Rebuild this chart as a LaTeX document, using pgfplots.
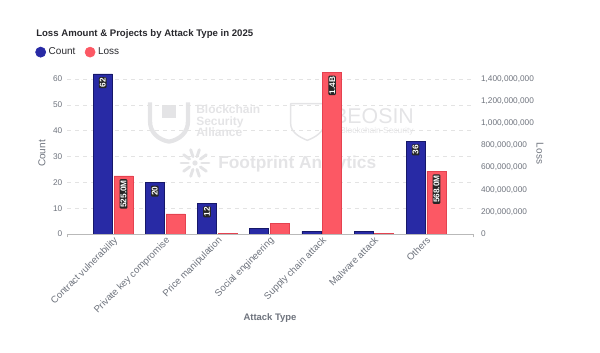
\documentclass[border=0pt]{standalone}
\usepackage{fontspec}
\setmainfont{Liberation Sans}
\usepackage{pgfplots}
\pgfplotsset{compat=1.18}
\definecolor{cblue}{RGB}{40,42,165}
\definecolor{cblueb}{RGB}{22,24,105}
\definecolor{cred}{RGB}{252,88,100}
\definecolor{credb}{RGB}{228,66,80}
\definecolor{tickc}{RGB}{110,115,125}
\definecolor{titlec}{RGB}{40,40,45}
\definecolor{wm}{RGB}{228,228,230}
\tikzset{
  barlabel/.style={rotate=90, anchor=east, outer xsep=2.5pt, fill=black!85, text=white, font=\bfseries\fontsize{6.2}{6.2}\selectfont, inner sep=0.7pt, rounded corners=0.8pt}
}
\begin{document}
\begin{tikzpicture}
\path[use as bounding box] (0,0) rectangle (450pt,264.75pt);
% watermark logos
\begin{scope}[x=1pt,y=1pt]
\draw[wm, line width=3.2pt, line join=round] (112.5,188) -- (112.5,174) .. controls (112.5,165) and (119,160) .. (126.75,158.5) .. controls (134.5,160) and (141,165) .. (141,174) -- (141,188);
\fill[wm] (121.5,176) rectangle (132,186);
\draw[wm, line width=1.1pt, line join=round] (218,187) -- (243,187) -- (243,172) .. controls (243,166) and (237,162) .. (230.5,159.5) .. controls (224,162) and (218,166) .. (218,172) -- cycle;
\foreach \a in {0,36,...,324} {\draw[wm, line width=2.2pt, line cap=round] (146.25,142.5) ++(\a:5pt) -- ++(\a:5.5pt);}
\fill[wm] (146.25,142.5) circle (2pt);
\end{scope}
% watermark texts
\node[anchor=west, font=\bfseries\fontsize{9}{8.6}\selectfont, text=wm, align=left, inner sep=0pt] at (147pt,174pt) {Blockchain\\Security\\Alliance};
\node[anchor=west, font=\fontsize{16}{16}\selectfont, text=wm, inner sep=0pt] at (249.75pt,177.75pt) {BEOSIN};
\node[anchor=west, font=\fontsize{6.3}{7}\selectfont, text=wm, inner sep=0pt] at (255pt,166.5pt) {Blockchain Security};
\node[anchor=west, font=\bfseries\fontsize{13}{14}\selectfont, text=wm, inner sep=0pt] at (163.5pt,141.75pt) {Footprint Analytics};
% title
\node[anchor=west, font=\bfseries\fontsize{7.2}{8}\selectfont, text=titlec, inner sep=0pt] at (27pt,239.5pt) {Loss Amount \& Projects by Attack Type in 2025};

\begin{axis}[
  at={(50.25pt,89.25pt)}, anchor=south west,
  scale only axis, width=304.5pt, height=124pt,
  xmin=-0.885, xmax=6.9,
  ymin=0, ymax=64,
  axis y line*=left, axis x line*=bottom,
  y axis line style={draw=none},
  x axis line style={draw=gray!55, line width=0.6pt, -},
  xtick={0,...,6},
  xticklabels={Contract vulnerability, Private key compromise, Price manipulation, Social engineering, Supply chain attack, Malware attack, Others},
  xticklabel style={rotate=45, anchor=north east, font=\fontsize{7.2}{8}\selectfont, text=tickc, inner sep=1pt},
  major tick length=0pt,
  extra x ticks={-0.885,6.9}, extra x tick labels={},
  extra x tick style={tick align=outside, major tick length=2.5pt, tick style={draw=gray!55, line width=0.6pt}},
  ytick={0,10,...,60},
  yticklabel style={font=\fontsize{6.2}{7}\selectfont, text=tickc},
  /pgf/number format/assume math mode=true,
  ymajorgrids, grid style={gray!22, dash pattern=on 3pt off 3pt, line width=0.5pt},
  xlabel={Attack Type}, ylabel={Count},
  every axis x label/.style={at={(axis description cs:0.5,-0.508)}, anchor=center, font=\bfseries\fontsize{7.1}{8}\selectfont, text=tickc},
  every axis y label/.style={at={(axis description cs:-0.0616,0.487)}, rotate=90, anchor=center, font=\fontsize{7.5}{8}\selectfont, text=tickc},
  legend columns=2,
  legend style={at={(axis description cs:-0.0788,1.100)}, anchor=west, draw=none, fill=none, inner sep=0pt, font=\fontsize{7.5}{8}\selectfont, text=titlec, /tikz/every even column/.append style={column sep=5pt}},
]
\addplot[ybar, bar width=14.25pt, bar shift=-7.8pt, fill=cblue, draw=cblueb, line width=0.5pt,
  legend image code/.code={\fill[cblue] (0pt,0pt) circle (3.8pt);}]
  coordinates {(0,62) (1,20) (2,12) (3,2) (4,1) (5,1) (6,36)};
\addlegendentry{Count}
\addlegendimage{legend image code/.code={\fill[cred] (0pt,0pt) circle (3.8pt);}}
\addlegendentry{Loss}
\addplot[draw=none, mark=none, forget plot,
  nodes near coords, point meta=explicit symbolic,
  every node near coord/.style={barlabel}]
  coordinates {(-0.2,62)[62] (0.8,20)[20] (1.8,12)[12] (5.8,36)[36]};
\end{axis}

\begin{axis}[
  at={(50.25pt,89.25pt)}, anchor=south west,
  scale only axis, width=304.5pt, height=124pt,
  xmin=-0.885, xmax=6.9,
  ymin=0, ymax=1493.33,
  axis y line*=right, axis x line=none,
  y axis line style={draw=none},
  major tick length=0pt,
  ytick={0,200,400,600,800,1000,1200,1400},
  yticklabels={0,{200,000,000},{400,000,000},{600,000,000},{800,000,000},{1,000,000,000},{1,200,000,000},{1,400,000,000}},
  yticklabel style={font=\fontsize{6.2}{7}\selectfont, text=tickc, xshift=2.5pt},
  ylabel={Loss},
  every axis y label/.style={at={(axis description cs:1.165,0.487)}, rotate=-90, anchor=center, font=\fontsize{7.5}{8}\selectfont, text=tickc},
]
\addplot[ybar, bar width=14.25pt, bar shift=7.8pt, fill=cred, draw=credb, line width=0.5pt]
  coordinates {(0,525.0) (1,182) (2,6) (3,95) (4,1460) (5,3) (6,568.0)};
\addplot[draw=none, mark=none, forget plot,
  nodes near coords, point meta=explicit symbolic,
  every node near coord/.style={barlabel}]
  coordinates {(0.2,525.0)[525.0M] (4.2,1460)[1.4B] (6.2,568.0)[568.0M]};
\end{axis}
\end{tikzpicture}
\end{document}
